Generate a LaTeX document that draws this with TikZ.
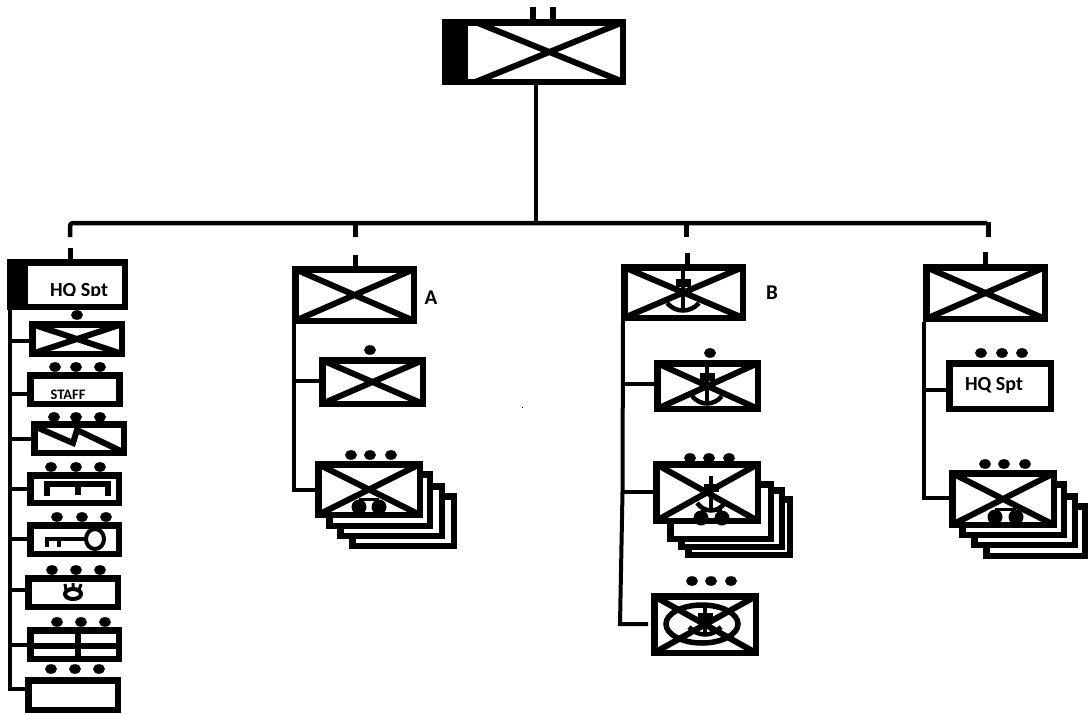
\documentclass[tikz,border=0pt]{standalone}
\usepackage{fontspec}
\setmainfont{Carlito}
\newcommand{\lw}{6.5}
\tikzset{
  x=1pt,y=-1pt,
  ubox/.style={draw=black,fill=white,line width=\lw pt,rectangle,outer sep=0pt,inner sep=0pt},
  flagbox/.style={fill=black,rectangle,outer sep=0pt,inner sep=0pt},
  conn/.style={draw=black,line width=4pt,line join=miter},
  bus/.style={draw=black,line width=4.5pt},
  tick/.style={draw=black,line width=5pt},
  sym/.style={draw=black,line width=6pt},
  lab/.style={font=\bfseries\fontsize{20}{20}\selectfont,inner sep=0pt},
  letter/.style={font=\bfseries\fontsize{21}{22}\selectfont,inner sep=0pt},
}
\newcommand{\ubx}[5]{\node[ubox,minimum width={#4-#2-\lw},minimum height={#5-#3-\lw}] (#1) at ({(#2+#4)/2},{(#3+#5)/2}) {};}
\newcommand{\crossed}[1]{\begin{scope}\clip (#1.north west) rectangle (#1.south east);
  \draw[sym] (#1.north west) -- (#1.south east) (#1.north east) -- (#1.south west);\end{scope}}
\newcommand{\pips}[2]{\foreach \px in {#2} {\fill[black] (\px,#1) ellipse [x radius=6,y radius=4.8];}}
\newcommand{\pairdots}[3]{\fill[black] (#1,#3-9) rectangle (#2,#3-6);
  \fill[black] (#1,#3) circle [radius=7.5]; \fill[black] (#2,#3) circle [radius=7.5];}
\newcommand{\anch}[5]{% x, top, bar, bottom, half width of hook
  \draw[draw=black,line width=4.5pt] (#1,#2) -- (#1,#4);
  \fill[black] (#1-7.5,#3-4) rectangle (#1+8,#3+4);
  \draw[draw=black,line width=4.5pt] (#1-#5,#4-9) .. controls (#1-#5*.45,#4+1) and (#1+#5*.45,#4+1) .. (#1+#5,#4-9);}
\begin{document}
\begin{tikzpicture}[x=1pt,y=-1pt]
\useasboundingbox (0,0) rectangle (1088,713);
% top
\ubx{top}{442}{19}{626}{85}
\node[flagbox,minimum width=26pt,minimum height=66pt] (topflag) at (455,52) {};
\begin{scope}
\clip (topflag.east |- top.north) rectangle (top.south east);
\draw[sym] (topflag.north east) -- (top.south east) (top.north east) -- (topflag.south east);
\end{scope}
\coordinate (t1) at (533,7); \coordinate (t2) at (553,7);
\draw[tick,line width=5.5pt] (t1) -- (t1 |- top.north) (t2) -- (t2 |- top.north);
\coordinate (busj) at (536,223);
\coordinate (busl) at (70,223); \coordinate (busr) at (987,223);
\draw[bus] (busj |- top.south) -- (busj);
\coordinate (dl) at (70,237); \coordinate (da) at (355,237); \coordinate (dc) at (686,237);
\draw[bus,rounded corners=3pt] (dl) -- (busl) -- (busr);
\coordinate (dr1) at (988,222); \coordinate (dr2) at (988,237);
\draw[tick] (dr1) -- (dr2);
\draw[tick] (da |- busl) -- (da);
\draw[tick] (dc |- busl) -- (dc);
% HQ Spt column
\ubx{hq}{7}{259}{128}{310}
\node[flagbox,minimum width=21pt,minimum height=51pt] (hqflag) at (17.5,284.5) {};
\begin{scope}
\clip (30,265) rectangle (125,295);
\node[lab] (hqtext) at (79,292) {HQ Spt};
\end{scope}
\coordinate (hqt) at (70,248);
\draw[tick] (hqt) -- (hqt |- hq.north);
\ubx{b1}{29}{321}{125}{357}\crossed{b1}
\ubx{b2}{27}{372}{122.5}{407}
\node[font=\bfseries\fontsize{14.5}{15}\selectfont,inner sep=0pt] (staff) at (68,395) {STAFF};
\ubx{b3}{31}{421}{127}{456}
\coordinate (z1) at (36,427); \coordinate (z2) at (73,443); \coordinate (z3) at (77,430); \coordinate (z4) at (123,452);
\draw[sym,line join=miter] (z1) -- (z2) -- (z3) -- (z4);
\ubx{b4}{27}{472}{122}{506}
\draw[draw=black,line width=5.5pt] (47,496) -- (47,484) -- (108,484) -- (108,496) (78,484) -- (78,495);
\ubx{b5}{27}{522}{122}{557}
\draw[draw=black,line width=4pt] (95,539) ellipse [x radius=9,y radius=10];
\draw[draw=black,line width=4pt] (86,539) -- (47,539) -- (47,547) (59,539) -- (59,547);
\ubx{b6}{25}{575}{121}{610}
\draw[draw=black,line width=4pt] (73,594) ellipse [x radius=8,y radius=5];
\draw[draw=black,line width=3pt] (66,590) -- (65,584) (73,589) -- (73,583) (79,590) -- (81,584);
\ubx{b7}{27}{627}{122}{662}
\draw[draw=black,line width=6pt] (b7.west |- 0,645.5) -- (b7.east |- 0,645.5) (78,627) -- (78,662);
\ubx{b8}{25}{677}{121}{713}
\pips{315}{77}
\pips{367}{55,76,100}
\pips{417}{54,76,100}
\pips{467}{51,76,100}
\pips{517}{57,82,106}
\pips{570}{52,76,100}
\pips{622}{57,81,105}
\pips{669}{51,75,99}
\coordinate (l0) at (10,310); \coordinate (l1) at (10,341); \coordinate (l2) at (10,394); \coordinate (l3) at (10,439);
\coordinate (l4) at (10,489); \coordinate (l5) at (10,539); \coordinate (l6) at (10,590); \coordinate (l7) at (10,645); \coordinate (l8) at (10,689);
\draw[conn] (l0) -- (l8) -- (l8 -| b8.west);
\draw[conn] (l1) -- (l1 -| b1.west) (l2) -- (l2 -| b2.west) (l3) -- (l3 -| b3.west) (l4) -- (l4 -| b4.west)
  (l5) -- (l5 -| b5.west) (l6) -- (l6 -| b6.west) (l7) -- (l7 -| b7.west);
% A column
\ubx{a0}{292}{266}{417}{324}\crossed{a0}
\node[letter] (atext) at (431,298) {A};
\coordinate (at) at (355,255); \draw[tick] (at) -- (at |- a0.north);
\ubx{a1}{319}{357}{426}{407}\crossed{a1}
\pips{350}{370}
\ubx{as4}{349}{493}{457}{549}\ubx{as3}{337}{483}{445}{539}\ubx{as2}{326}{471}{433}{529}
\ubx{a2}{315}{461}{423}{518}\crossed{a2}
\pairdots{359}{379}{507}
\pips{455}{351,370,391}
\coordinate (ac0) at (294,324); \coordinate (ac1) at (294,381); \coordinate (ac2) at (294,490);
\draw[conn] (ac0) -- (ac2) -- (ac2 -| a2.west);
\draw[conn] (ac1) -- (ac1 -| a1.west);
% B column
\ubx{c0}{621}{264}{746}{321}\crossed{c0}
\node[letter] (btext) at (772,293) {B};
\anch{683}{270}{283}{312}{16}
\coordinate (ct) at (687.5,253); \draw[tick] (ct) -- (ct |- c0.north);
\ubx{c1}{654}{360}{761}{412}\crossed{c1}
\anch{707}{366}{377}{405}{15}
\pips{353}{710}
\ubx{cs4}{685}{496}{793}{558}\ubx{cs3}{678}{487}{785}{550}\ubx{cs2}{667}{481}{774}{542}
\ubx{c2}{653}{461}{761}{524}\crossed{c2}
\anch{711}{476}{488}{512}{14}
\pairdots{701}{722}{518}
\pips{458}{690,709,729}
\ubx{c3}{651}{593}{759}{656}\crossed{c3}
\draw[draw=black,line width=5.5pt] (702,624) ellipse [x radius=36,y radius=19];
\anch{705}{604}{617}{636}{16}
\pips{581}{692,711,731}
\coordinate (cc0) at (623,321); \coordinate (cc1) at (623,384); \coordinate (cc2) at (622.5,492); \coordinate (cc3) at (620,624); \coordinate (cc3e) at (648,624);
\draw[conn] (cc0) -- (cc2) -- (cc3) -- (cc3e);
\draw[conn] (cc1) -- (cc1 -| c1.west) (cc2) -- (cc2 -| c2.west);
% right column
\ubx{d0}{923}{264}{1048}{322}\crossed{d0}
\coordinate (dt) at (985.5,252); \draw[tick] (dt) -- (dt |- d0.north);
\ubx{d1}{946}{360}{1054}{412}
\node[lab] (dtext) at (994,386) {HQ Spt};
\pips{353}{981,1002,1022}
\ubx{ds4}{983}{503}{1088}{559}\ubx{ds3}{971}{493}{1078}{548}\ubx{ds2}{959}{481}{1067}{538}
\ubx{d2}{949}{470}{1057}{528}\crossed{d2}
\pairdots{995}{1016}{517}
\pips{464}{985,1004,1025}
\coordinate (dc0) at (924,322); \coordinate (dc1) at (924,390); \coordinate (dc2) at (924,498);
\draw[conn] (dc0) -- (dc2) -- (dc2 -| d2.west);
\draw[conn] ([xshift=-2pt]dc1) -- (dc1 -| d1.west);
\fill[black] (521.5,406.5) rectangle (523,408);
\end{tikzpicture}
\end{document}
